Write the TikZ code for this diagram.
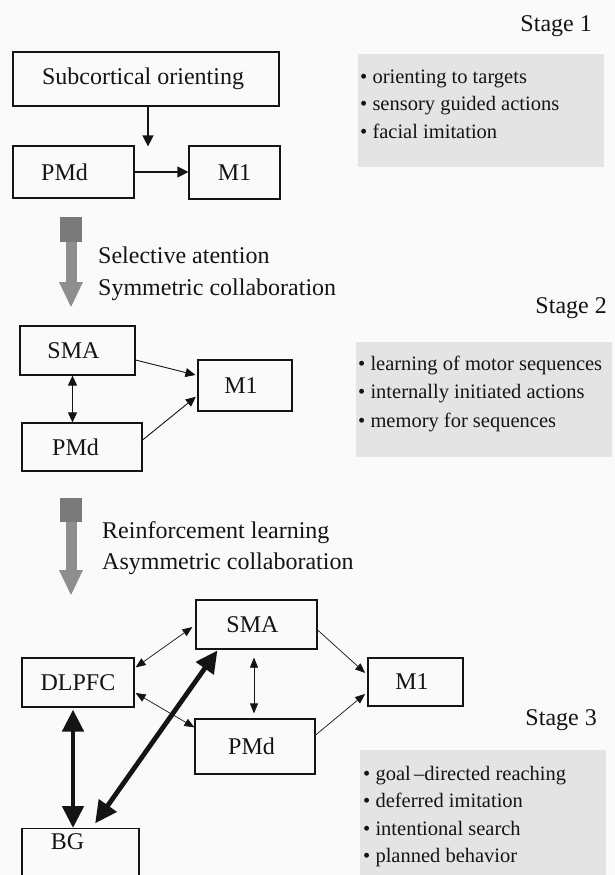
\documentclass[tikz,border=0pt]{standalone}
\usepackage{fontspec}
\setmainfont{Liberation Serif}
\usetikzlibrary{arrows.meta,calc}
\definecolor{bgc}{RGB}{250,250,250}
\definecolor{panel}{RGB}{228,228,228}
\definecolor{arrgray}{RGB}{142,142,142}
\definecolor{arrdark}{RGB}{122,122,122}
\definecolor{ink}{RGB}{20,20,20}
\begin{document}
\begin{tikzpicture}[x=1pt,y=-1pt,
  box/.style={draw=ink, line width=1.2pt, inner sep=0pt, text=ink, font=\fontsize{24}{28}\selectfont},
  stg/.style={inner sep=0pt, text=ink, anchor=base east, font=\fontsize{24}{28}\selectfont},
  lab/.style={inner sep=0pt, text=ink, anchor=base west, font=\fontsize{24}{28}\selectfont},
  bul/.style={inner sep=0pt, text=ink, anchor=base west, font=\fontsize{20.5}{24}\selectfont},
  conA/.style={draw=ink, line width=1.2pt, -{Triangle[length=11pt,width=11pt]}},
  conB/.style={draw=ink, line width=0.9pt, -{Triangle[length=10pt,width=9pt]}},
  conBB/.style={draw=ink, line width=0.9pt, {Triangle[length=10pt,width=9pt]}-{Triangle[length=10pt,width=9pt]}},
  conC/.style={draw=ink, line width=0.7pt, -{Triangle[length=10pt,width=8pt]}},
  conCC/.style={draw=ink, line width=0.7pt, {Triangle[length=10pt,width=8pt]}-{Triangle[length=10pt,width=8pt]}},
  thick2/.style={draw=ink, line width=4.8pt, {Triangle[length=22pt,width=21pt]}-{Triangle[length=22pt,width=21pt]}}
]
\clip (0,0) rectangle (615,875);
\fill[bgc] (0,0) rectangle (615,875);

% ---------- grey panels ----------
\fill[panel] (358,54) rectangle (604,167);
\fill[panel] (356,342) rectangle (612,457);
\fill[panel] (360,750) rectangle (606,890);

% ---------- stage labels ----------
\node[stg] (st1) at (592,32) {Stage 1};
\node[stg] (st2) at (607,313) {Stage 2};
\node[stg] (st3) at (597,725) {Stage 3};

% ---------- bullet lists ----------
\node[bul] (b11) at (360,83) {• orienting to targets};
\node[bul] (b12) at (360,110.5) {• sensory guided actions};
\node[bul] (b13) at (360,138) {• facial imitation};

\node[bul] (b21) at (358,370) {• learning of motor sequences};
\node[bul] (b22) at (358,398.5) {• internally initiated actions};
\node[bul] (b23) at (358,427) {• memory for sequences};

\node[bul] (b31) at (363,780) {• goal\,–directed reaching};
\node[bul] (b32) at (363,807.5) {• deferred imitation};
\node[bul] (b33) at (363,835) {• intentional search};
\node[bul] (b34) at (363,862.5) {• planned behavior};

% ---------- Stage 1 ----------
\node[box, minimum width=266pt, minimum height=54pt] (sub) at (146,79) {Subcortical orienting\hspace*{6pt}};
\node[box, minimum width=121pt, minimum height=52pt] (pmda) at (73.5,172) {PMd\hspace*{18pt}};
\node[box, minimum width=91pt, minimum height=53pt] (m1a) at (234.5,172.5) {M1};
\coordinate (gap) at (sub.south |- pmda.north);
\draw[conA] ($(sub.south)+(2,0)$) -- ($(gap)+(2,1)$);
\draw[conA] (pmda.east) -- (pmda.east -| m1a.west);

% ---------- gray arrow 1 ----------
\fill[arrdark] (60,217) rectangle (82,242);
\fill[arrgray] (66,242) rectangle (77,282);
\fill[arrgray] (59,282) -- (83,282) -- (71,307) -- cycle;
\node[lab] (t1) at (98,263) {Selective atention};
\node[lab] (t2) at (98,295) {Symmetric collaboration};

% ---------- Stage 2 ----------
\node[box, minimum width=115pt, minimum height=49pt] (smab) at (77.5,350.5) {SMA\hspace*{8pt}};
\node[box, minimum width=94pt, minimum height=51pt] (m1b) at (245,385.5) {M1\hspace*{8pt}};
\node[box, minimum width=120pt, minimum height=48pt] (pmdb) at (82,447) {PMd\hspace*{13pt}};
\draw[conB, shorten >=2pt] ($(smab.east)+(0,9.5)$) -- ($(m1b.west)+(0,-10)$);
\draw[conB, shorten >=2pt] ($(pmdb.east)+(0,-7)$) -- ($(m1b.west)+(0,10)$);
\coordinate (sb) at ($(smab.south)+(-5,0)$);
\draw[conBB] (sb) -- (sb |- pmdb.north);

% ---------- gray arrow 2 ----------
\fill[arrdark] (60,498) rectangle (82,522);
\fill[arrgray] (66,522) rectangle (77,570);
\fill[arrgray] (59,570) -- (83,570) -- (71,595) -- cycle;
\node[lab] (t3) at (102,538) {Reinforcement learning};
\node[lab] (t4) at (102,569) {Asymmetric collaboration};

% ---------- Stage 3 ----------
\node[box, minimum width=121pt, minimum height=49pt] (smac) at (256.5,624.5) {SMA\hspace*{8pt}};
\node[box, minimum width=112pt, minimum height=49pt] (dl) at (78,682.5) {DLPFC};
\node[box, minimum width=95pt, minimum height=48pt] (m1c) at (415.5,682) {M1\hspace*{7pt}};
\node[box, minimum width=120pt, minimum height=55pt] (pmdc) at (255,746.5) {PMd\hspace*{7pt}};
\node[box, minimum width=117pt, anchor=north, text depth=45pt, inner ysep=5pt] (bg) at (80.5,828) {BG\hspace*{26pt}};

\draw[conCC] ($(dl.north east)+(1,10)$) -- ($(smac.west)+(-3,2.5)$);
\draw[conCC] ($(dl.east)+(1,10.5)$) -- ($(pmdc.north west)+(0,9)$);
\coordinate (sc) at ($(smac.south)+(-2.5,0)$);
\draw[conCC, shorten <=8pt, shorten >=5pt] (sc) -- (sc |- pmdc.north);
\draw[conC, shorten >=3pt] ($(smac.east)+(0,5.5)$) -- ($(m1c.west)+(0,-7)$);
\draw[conC, shorten >=3pt] ($(pmdc.east)+(0,-11.5)$) -- ($(m1c.west)+(0,10)$);
\coordinate (dd) at ($(dl.south)+(-5,0)$);
\draw[thick2, shorten <=2pt] (dd) -- (dd |- bg.north);
\draw[thick2, shorten <=1pt, shorten >=2pt] ($(smac.south)+(-38.5,0)$) -- ($(bg.north)+(13.5,-3)$);
\end{tikzpicture}
\end{document}
